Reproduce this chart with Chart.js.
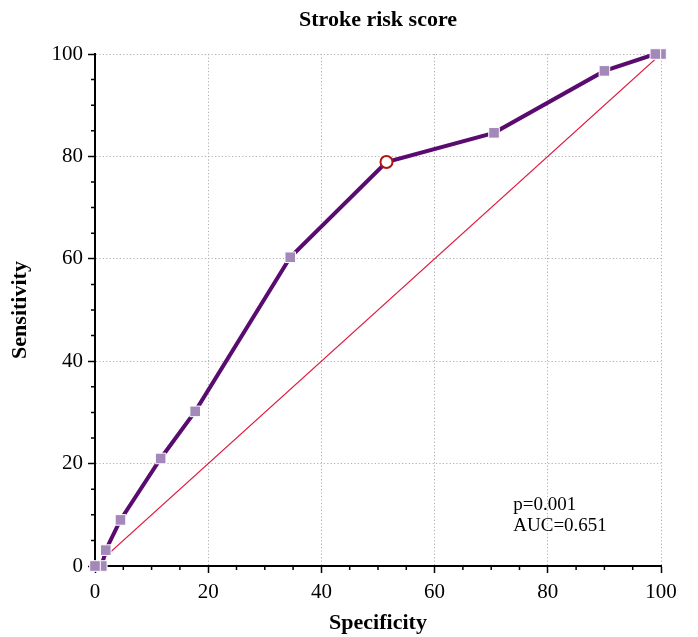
<!DOCTYPE html>
<html>
<head>
<meta charset="utf-8">
<script src="https://cdn.jsdelivr.net/npm/chart.js@4.4.1/dist/chart.umd.min.js"></script>
<style>
  html, body { margin: 0; padding: 0; background: #fff; }
  #wrap { width: 698px; height: 637px; }
</style>
</head>
<body>
<div id="wrap"><canvas id="roc"></canvas></div>
<script>
// ROC curve points (100 - specificity vs sensitivity)
const specificity = [100, 99, 90, 70.5, 51.5, 34.5, 17.7, 11.6, 4.5, 1.9, 1.2, 0];
const sensitivity = [100, 100, 96.7, 84.6, 78.9, 60.3, 30.2, 21.0, 9.0, 3.1, 0, 0];
const cutoffIndex = 4;
const diagonalX = [0, 100];
const diagonalY = [0, 100];
const axisTicks = [0, 20, 40, 60, 80, 100];
const chartTitle = "Stroke risk score";
const notes = ["p=0.001", "AUC=0.651"];

const serif = "'Liberation Serif', 'Times New Roman', serif";

// minor ticks, centred title and the p / AUC note
const extras = {
  id: "extras",
  afterDraw(chart) {
    const { ctx, chartArea, scales: { x, y } } = chart;
    ctx.save();
    ctx.strokeStyle = "#000";
    ctx.lineWidth = 1.5;
    ctx.beginPath();
    for (let v = 5; v < 100; v += 5) {
      if (v % 20 === 0) continue;
      const px = x.getPixelForValue(v);
      ctx.moveTo(px, x.top);
      ctx.lineTo(px, x.top + 4);
      const py = y.getPixelForValue(v);
      ctx.moveTo(y.right, py);
      ctx.lineTo(y.right - 4, py);
    }
    ctx.stroke();

    ctx.fillStyle = "#000";
    ctx.textBaseline = "middle";
    ctx.textAlign = "center";
    ctx.font = "bold 22px " + serif;
    ctx.fillText(chartTitle, (chartArea.left + chartArea.right) / 2, 20);

    ctx.textAlign = "left";
    ctx.font = "19px " + serif;
    ctx.fillText(notes[0], x.getPixelForValue(73.9), y.getPixelForValue(12.0));
    ctx.fillText(notes[1], x.getPixelForValue(73.9), y.getPixelForValue(7.9));
    ctx.restore();
  }
};

const gridColor = c => (c.tick && c.tick.value > 0 ? "#b0b0b0" : "rgba(0,0,0,0)");

new Chart(document.getElementById("roc"), {
  type: "scatter",
  data: {
    datasets: [
      {
        label: chartTitle,
        data: specificity.map((s, i) => ({ x: s, y: sensitivity[i] })),
        showLine: true,
        borderColor: "#5a0b70",
        borderWidth: 4,
        clip: false,
        pointStyle: ctx => (ctx.dataIndex === cutoffIndex ? "circle" : "rect"),
        pointRadius: ctx => (ctx.dataIndex === cutoffIndex ? 6 : 7.5),
        pointBackgroundColor: ctx => (ctx.dataIndex === cutoffIndex ? "#fff" : "#a388ba"),
        pointBorderColor: ctx => (ctx.dataIndex === cutoffIndex ? "#b3140c" : "#fff"),
        pointBorderWidth: ctx => (ctx.dataIndex === cutoffIndex ? 2 : 1),
        pointHoverRadius: 0
      },
      {
        label: "Reference",
        data: diagonalX.map((v, i) => ({ x: v, y: diagonalY[i] })),
        showLine: true,
        borderColor: "#e0163e",
        borderWidth: 1.2,
        pointRadius: 0
      }
    ]
  },
  options: {
    responsive: true,
    maintainAspectRatio: false,
    animation: false,
    layout: { padding: { left: 0, right: 37, top: 54, bottom: 0 } },
    plugins: {
      legend: { display: false },
      tooltip: { enabled: false }
    },
    scales: {
      x: {
        type: "linear",
        min: 0,
        max: 100,
        afterBuildTicks: s => { s.ticks = axisTicks.map(v => ({ value: v })); },
        afterFit: s => { s.height = 71; },
        ticks: { color: "#000", font: { family: serif, size: 21 }, padding: 7, maxRotation: 0 },
        grid: { color: gridColor, lineWidth: 1, tickColor: "#000", tickLength: 7, tickWidth: 1.5 },
        border: { display: true, color: "#000", width: 2, dash: [1.2, 2.2] },
        title: {
          display: true,
          text: "Specificity",
          color: "#000",
          font: { family: serif, size: 22, weight: "bold" },
          padding: { top: 0, bottom: 0 }
        }
      },
      y: {
        type: "linear",
        min: 0,
        max: 100,
        afterBuildTicks: s => { s.ticks = axisTicks.map(v => ({ value: v })); },
        afterFit: s => { s.width = 95; },
        ticks: { color: "#000", font: { family: serif, size: 21 }, padding: 5 },
        grid: { color: gridColor, lineWidth: 1, tickColor: "#000", tickLength: 7, tickWidth: 1.5 },
        border: { display: true, color: "#000", width: 2, dash: [1.2, 2.2] },
        title: {
          display: true,
          text: "Sensitivity",
          color: "#000",
          font: { family: serif, size: 22, weight: "bold" },
          padding: { top: 7, bottom: 0 }
        }
      }
    }
  },
  plugins: [extras]
});
</script>
</body>
</html>
